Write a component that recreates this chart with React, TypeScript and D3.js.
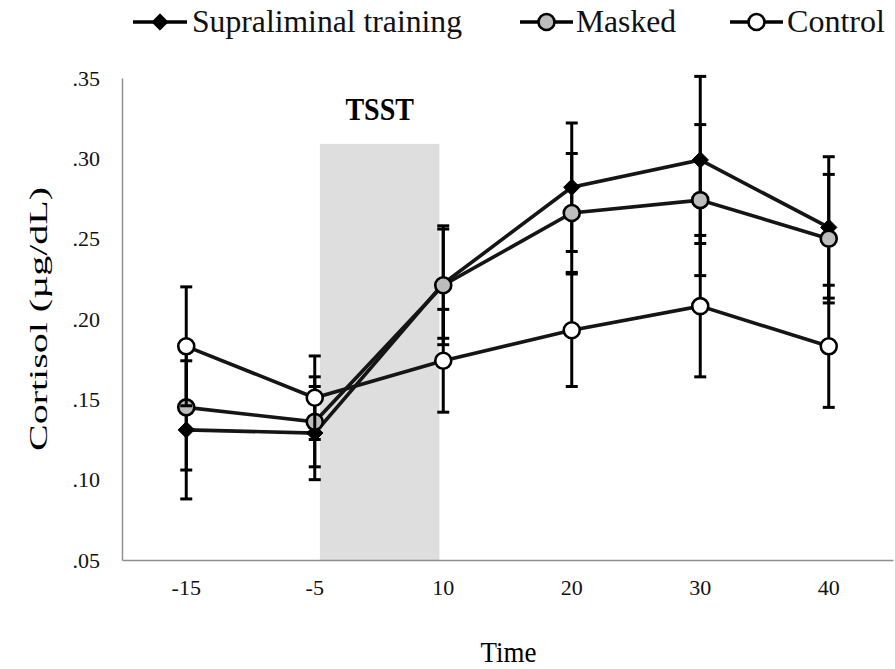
import React, { useEffect, useRef } from 'react'
import * as d3 from 'd3'

// time points (min relative to TSST) and cortisol means / error bars
const times = ['-15', '-5', '10', '20', '30', '40']
const supraMean = [0.131, 0.129, 0.222, 0.282, 0.299, 0.257]
const supraErr = [0.043, 0.029, 0.034, 0.040, 0.052, 0.044]
const maskedMean = [0.145, 0.136, 0.221, 0.266, 0.274, 0.250]
const maskedErr = [0.039, 0.028, 0.037, 0.037, 0.047, 0.040]
const controlMean = [0.183, 0.151, 0.174, 0.193, 0.208, 0.183]
const controlErr = [0.037, 0.026, 0.032, 0.035, 0.044, 0.038]
const yTicks = [0.05, 0.1, 0.15, 0.2, 0.25, 0.3, 0.35]
const seriesNames = ['Supraliminal training', 'Masked', 'Control']

const FONT = '"Liberation Serif", "Times New Roman", serif'

export default function App() {
    const ref = useRef<SVGSVGElement>(null)

    useEffect(() => {
        const svg = d3.select(ref.current)
        svg.selectAll('*').remove()

        const left = 122, right = 893, top = 78, bottom = 560

        const x = d3.scaleBand<string>().domain(times).range([left, right]).padding(0)
        const cx = (t: string) => (x(t) as number) + x.bandwidth() / 2
        const y = d3.scaleLinear().domain([0.05, 0.35]).range([bottom, top])
        // index scale for the TSST block, which sits between the -5 and 10 points
        const xi = d3.scaleLinear().domain([0, times.length - 1]).range([cx(times[0]), cx(times[times.length - 1])])

        // TSST shade
        svg.append('rect')
            .attr('x', xi(1.04))
            .attr('y', y(0.309))
            .attr('width', xi(1.97) - xi(1.04))
            .attr('height', y(0.05) - y(0.309))
            .attr('fill', '#dedede')

        svg.append('text')
            .attr('transform', `translate(${(xi(1.04) + xi(1.97)) / 2},${y(0.309) - 24}) scale(1,1.1)`)
            .attr('text-anchor', 'middle')
            .attr('font-family', FONT)
            .attr('font-weight', 'bold')
            .attr('font-size', 28)
            .text('TSST')

        // axes
        const yAxis = svg.append('g')
            .attr('transform', `translate(${left},0)`)
            .call(d3.axisLeft(y).tickValues(yTicks).tickSize(0).tickSizeOuter(0).tickPadding(22)
                .tickFormat(d => d3.format('.2f')(d as number).replace(/^0/, '')))
        const xAxis = svg.append('g')
            .attr('transform', `translate(0,${bottom})`)
            .call(d3.axisBottom(x).tickSize(0).tickSizeOuter(0).tickPadding(19))

        for (const ax of [xAxis, yAxis]) {
            ax.select('.domain').attr('stroke', '#8f8f8f').attr('stroke-width', 1.5)
            ax.selectAll('text')
                .attr('font-family', FONT)
                .attr('font-size', 22)
                .attr('fill', '#111')
        }

        svg.append('text')
            .attr('transform', `translate(${(left + right) / 2 + 1},662) scale(1,1.12)`)
            .attr('text-anchor', 'middle')
            .attr('font-family', FONT)
            .attr('font-size', 27)
            .text('Time')

        svg.append('text')
            .attr('transform', `translate(47,${(top + bottom) / 2}) rotate(-90)`)
            .attr('text-anchor', 'middle')
            .attr('font-family', FONT)
            .attr('font-size', 26)
            .attr('textLength', 264)
            .attr('lengthAdjust', 'spacingAndGlyphs')
            .text('Cortisol (µg/dL)')

        const series = [
            { mean: supraMean, err: supraErr, marker: 'diamond', fill: '#000' },
            { mean: maskedMean, err: maskedErr, marker: 'circle', fill: '#bdbdbd' },
            { mean: controlMean, err: controlErr, marker: 'circle', fill: '#fff' },
        ]

        const diamond = d3.symbol().type(d3.symbolDiamond2).size(170)

        const drawMarker = (g: d3.Selection<SVGGElement, unknown, null, undefined>, m: string, fill: string, px: number, py: number) => {
            if (m === 'diamond') {
                g.append('path')
                    .attr('d', diamond() as string)
                    .attr('transform', `translate(${px},${py})`)
                    .attr('fill', fill)
                    .attr('stroke', '#000')
                    .attr('stroke-width', 1)
            } else {
                g.append('circle')
                    .attr('cx', px)
                    .attr('cy', py)
                    .attr('r', 8)
                    .attr('fill', fill)
                    .attr('stroke', '#000')
                    .attr('stroke-width', 2.6)
            }
        }

        const line = d3.line<number>()
            .x((d, i) => cx(times[i]))
            .y(d => y(d))

        series.forEach(s => {
            const g = svg.append('g')
            // error bars
            s.mean.forEach((m, i) => {
                const px = cx(times[i])
                g.append('line')
                    .attr('x1', px).attr('x2', px)
                    .attr('y1', y(m - s.err[i])).attr('y2', y(m + s.err[i]))
                    .attr('stroke', '#000').attr('stroke-width', 3)
                for (const v of [m - s.err[i], m + s.err[i]]) {
                    g.append('line')
                        .attr('x1', px - 6).attr('x2', px + 6)
                        .attr('y1', y(v)).attr('y2', y(v))
                        .attr('stroke', '#000').attr('stroke-width', 3)
                }
            })
            g.append('path')
                .datum(s.mean)
                .attr('d', line)
                .attr('fill', 'none')
                .attr('stroke', '#151515')
                .attr('stroke-width', 3.6)
            s.mean.forEach((m, i) => drawMarker(g, s.marker, s.fill, cx(times[i]), y(m)))
        })

        // legend
        const legendPos = [
            { x0: 133, x1: 187, tx: 192, tl: 270 },
            { x0: 520, x1: 573, tx: 576, tl: 100 },
            { x0: 730, x1: 783, tx: 787, tl: 98 },
        ]
        series.forEach((s, i) => {
            const lp = legendPos[i]
            const g = svg.append('g')
            g.append('line')
                .attr('x1', lp.x0).attr('x2', lp.x1)
                .attr('y1', 22).attr('y2', 22)
                .attr('stroke', '#000').attr('stroke-width', 3.6)
            drawMarker(g, s.marker, s.fill, (lp.x0 + lp.x1) / 2, 22)
            g.append('text')
                .attr('transform', `translate(${lp.tx},32) scale(1,1.12)`)
                .attr('font-family', FONT)
                .attr('font-size', 29)
                .attr('textLength', lp.tl)
                .attr('lengthAdjust', 'spacingAndGlyphs')
                .attr('fill', '#111')
                .text(seriesNames[i])
        })
    }, [])

    return (
        <svg ref={ref} width={895} height={669}
            style={{ position: 'absolute', left: 0, top: 0, background: '#fff' }} />
    )
}
